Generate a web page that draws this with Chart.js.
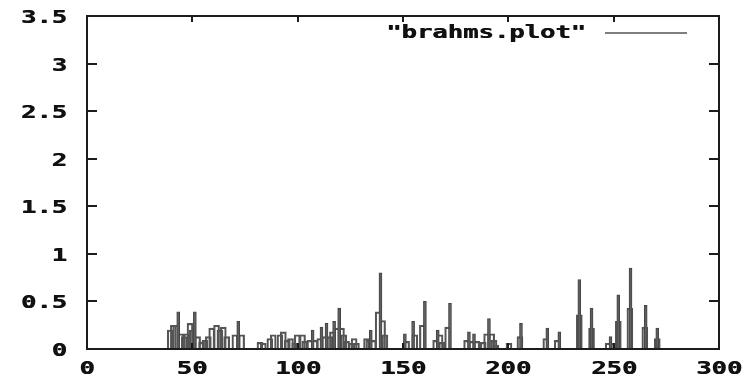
<!DOCTYPE html>
<html>
<head>
<meta charset="utf-8">
<script src="https://cdn.jsdelivr.net/npm/chart.js@4/dist/chart.umd.min.js"></script>
<style>
  html, body { margin: 0; padding: 0; background: #fff; }
  #c { display: block; }
</style>
</head>
<body>
<canvas id="c" width="748" height="385"></canvas>
<script>
// Series label shown in the key
const seriesLabel = '"brahms.plot"';

// Axis ticks
const xTicks = [0, 50, 100, 150, 200, 250, 300];
const yTicks = [0, 0.5, 1, 1.5, 2, 2.5, 3, 3.5];
const yTickLabels = ['0', '0.5', '1', '1.5', '2', '2.5', '3', '3.5'];

// Wide boxes: positions and heights
const boxX = [39.5, 41.0, 42.1, 44.6, 46.2, 47.3, 48.9, 50.0, 52.5, 54.4, 56.0, 57.6, 59.2, 61.5, 63.1, 64.7, 66.3,
  70.2, 73.4, 82.1, 83.7, 86.8, 88.4, 91.6, 93.2, 95.1, 96.6, 98.6, 99.8, 102.3, 103.4, 105.8, 108.2, 110.5, 112.9,
  115.3, 116.5, 118.5, 120.8, 121.9, 123.2, 125.6, 126.8, 127.9, 132.7, 133.8, 135.9, 138.2, 140.3, 141.4, 151.7,
  155.6, 159.2, 165.5, 167.6, 168.4, 171.2, 180.2, 182.6, 185.0, 188.1, 189.7, 192.1, 193.2, 194.1, 200.3, 205.5,
  217.8, 223.2, 233.7, 239.5, 247.4, 250.1, 252.2, 257.7, 264.8, 270.7];
const boxY = [0.20, 0.25, 0.25, 0.16, 0.13, 0.16, 0.27, 0.20, 0.13, 0.07, 0.09, 0.13, 0.22, 0.25, 0.20, 0.23, 0.13,
  0.15, 0.15, 0.07, 0.06, 0.11, 0.15, 0.15, 0.18, 0.09, 0.11, 0.06, 0.15, 0.15, 0.08, 0.09, 0.09, 0.11, 0.13,
  0.13, 0.18, 0.22, 0.22, 0.15, 0.08, 0.06, 0.11, 0.06, 0.11, 0.09, 0.09, 0.39, 0.30, 0.15, 0.08,
  0.15, 0.25, 0.09, 0.15, 0.07, 0.23, 0.09, 0.08, 0.08, 0.07, 0.16, 0.16, 0.09, 0.04, 0.06, 0.13,
  0.11, 0.09, 0.36, 0.22, 0.06, 0.06, 0.29, 0.43, 0.23, 0.11];

// Narrow peaks: positions and heights
const spikeX = [43.3, 51.2, 71.8, 107.1, 111.3, 113.7, 117.3, 119.7, 134.7, 139.3, 150.9, 154.8, 160.4, 166.5, 172.3,
  181.3, 183.7, 190.8, 206.0, 218.5, 224.2, 233.7, 239.5, 248.5, 252.2, 258.0, 265.2, 270.7];
const spikeY = [0.39, 0.39, 0.29, 0.20, 0.23, 0.27, 0.29, 0.43, 0.20, 0.80, 0.16, 0.29, 0.50, 0.20, 0.48,
  0.18, 0.16, 0.32, 0.27, 0.22, 0.18, 0.73, 0.43, 0.13, 0.57, 0.85, 0.46, 0.22];

const pts = (xs, ys) => xs.map((v, i) => ({ x: v, y: ys[i] }));

const FONT = 'bold 18px "DejaVu Sans Mono"';
const STRETCH = 1.42;
const INK = '#111111';

function wideText(ctx, text, px, py, align) {
  ctx.save();
  ctx.font = FONT;
  ctx.textBaseline = 'middle';
  ctx.textAlign = align;
  ctx.translate(px, py);
  ctx.scale(STRETCH, 1);
  ctx.fillText(text, 0, 0);
  // slight second pass to thicken strokes
  ctx.fillText(text, 0.5, 0);
  ctx.restore();
}

// Border, inward ticks on all four sides, tick labels and the key
const frameAndKey = {
  id: 'frameAndKey',
  afterDatasetsDraw(chart) {
    const { ctx, chartArea: a, scales } = chart;
    const xs = scales.x, ys = scales.y;
    ctx.save();
    ctx.strokeStyle = '#1c1c1c';
    ctx.fillStyle = INK;
    ctx.lineWidth = 2;
    ctx.strokeRect(a.left, a.top, a.right - a.left, a.bottom - a.top);

    ys.ticks.forEach((t, i) => {
      const py = Math.round(ys.getPixelForValue(t.value));
      ctx.beginPath();
      ctx.moveTo(a.left, py); ctx.lineTo(a.left + 10, py);
      ctx.moveTo(a.right, py); ctx.lineTo(a.right - 10, py);
      ctx.stroke();
      wideText(ctx, yTickLabels[i], a.left - 20, py + 2, 'right');
    });
    xs.ticks.forEach(t => {
      const px = Math.round(xs.getPixelForValue(t.value));
      ctx.beginPath();
      ctx.moveTo(px, a.bottom); ctx.lineTo(px, a.bottom - 6);
      ctx.moveTo(px, a.top); ctx.lineTo(px, a.top + 6);
      ctx.stroke();
      wideText(ctx, String(t.value), px, a.bottom + 20, 'center');
    });

    // key
    wideText(ctx, chart.data.datasets[0].label, 586, 33, 'right');
    ctx.strokeStyle = '#555555';
    ctx.lineWidth = 1.5;
    ctx.beginPath();
    ctx.moveTo(605, 33); ctx.lineTo(687, 33);
    ctx.stroke();
    ctx.restore();
  }
};

new Chart(document.getElementById('c'), {
  type: 'bar',
  data: {
    datasets: [
      {
        label: seriesLabel,
        data: pts(boxX, boxY),
        grouped: false,
        barThickness: 6,
        backgroundColor: 'rgba(255,255,255,0)',
        borderColor: '#555555',
        borderWidth: 1.5,
        order: 2
      },
      {
        label: seriesLabel,
        data: pts(spikeX, spikeY),
        grouped: false,
        barThickness: 3,
        backgroundColor: '#5e5e5e',
        borderColor: '#444444',
        borderWidth: 1,
        order: 1
      }
    ]
  },
  options: {
    responsive: false,
    animation: false,
    layout: { padding: { top: 16, right: 29, left: 0, bottom: 0 } },
    plugins: { legend: { display: false }, tooltip: { enabled: false } },
    scales: {
      x: {
        type: 'linear',
        min: 0, max: 300,
        offset: false,
        afterBuildTicks: s => { s.ticks = xTicks.map(v => ({ value: v })); },
        afterFit: s => { s.height = 36; },
        ticks: { display: false },
        grid: { display: false, offset: false },
        border: { display: false }
      },
      y: {
        type: 'linear',
        min: 0, max: 3.5,
        afterBuildTicks: s => { s.ticks = yTicks.map(v => ({ value: v })); },
        afterFit: s => { s.width = 87; },
        ticks: { display: false },
        grid: { display: false },
        border: { display: false }
      }
    }
  },
  plugins: [frameAndKey]
});
</script>
</body>
</html>
